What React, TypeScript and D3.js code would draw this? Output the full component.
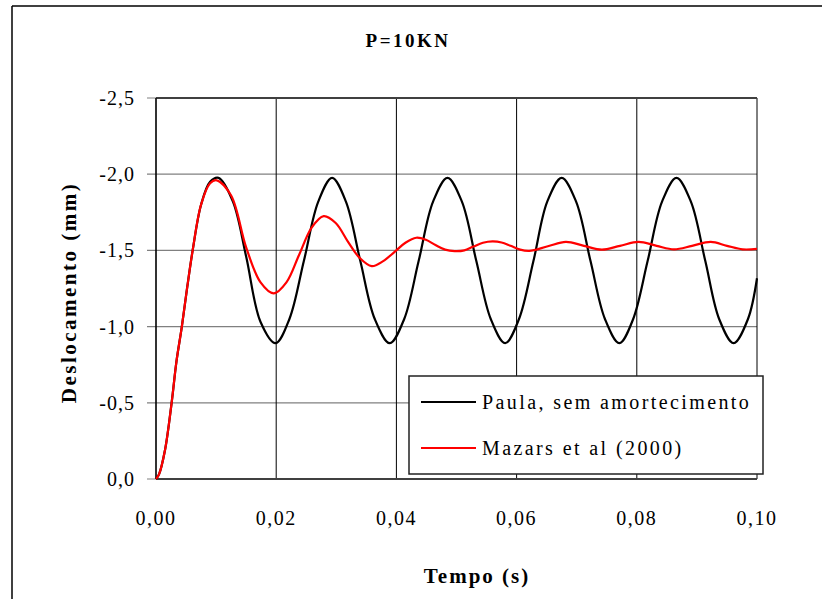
import React from 'react';
import * as d3 from 'd3';

// axis ticks
const xTicks = [0, 0.02, 0.04, 0.06, 0.08, 0.1];
const yTicks = [0, -0.5, -1, -1.5, -2, -2.5];

// Paula, sem amortecimento (no damping)
const paulaT = [
  0, 0.0005, 0.0015, 0.0026, 0.0034, 0.0043, 0.0052, 0.0061, 0.0075, 0.009, 0.0104,
  0.0128, 0.015, 0.0174, 0.0199, 0.0222, 0.0246, 0.027, 0.0293,
  0.0316, 0.034, 0.0364, 0.0389, 0.0413, 0.0437, 0.0461, 0.0485,
  0.0509, 0.0533, 0.0557, 0.0581, 0.0604, 0.0628, 0.0651, 0.0675,
  0.0699, 0.0723, 0.0747, 0.0771, 0.0794, 0.0818, 0.0842, 0.0866,
  0.089, 0.0914, 0.0937, 0.0961, 0.0985, 0.1,
];
const paulaD = [
  0, -0.03, -0.19, -0.5, -0.77, -1.0, -1.26, -1.5, -1.8, -1.95, -1.976,
  -1.82, -1.46, -1.03, -0.891, -1.05, -1.43, -1.82, -1.976,
  -1.82, -1.43, -1.05, -0.891, -1.05, -1.43, -1.82, -1.976,
  -1.82, -1.43, -1.05, -0.891, -1.05, -1.43, -1.82, -1.976,
  -1.82, -1.43, -1.05, -0.891, -1.05, -1.43, -1.82, -1.976,
  -1.82, -1.43, -1.05, -0.891, -1.05, -1.317,
];

// Mazars et al (2000)
const mazarsT = [
  0, 0.0005, 0.0015, 0.0026, 0.0034, 0.0043, 0.0052, 0.0061, 0.0075, 0.009, 0.0101,
  0.0125, 0.015, 0.0174, 0.0196, 0.0217, 0.0238, 0.0259, 0.0279,
  0.0299, 0.0319, 0.0339, 0.0359, 0.0378, 0.0397, 0.0415, 0.0433,
  0.0449, 0.0465, 0.0481, 0.0497, 0.0513, 0.0528, 0.0544, 0.056,
  0.0575, 0.059, 0.0606, 0.0621, 0.0652, 0.0682, 0.0712, 0.0742,
  0.0772, 0.0803, 0.0833, 0.0862, 0.0892, 0.0923, 0.095, 0.0976, 0.1,
];
const mazarsD = [
  0, -0.03, -0.19, -0.5, -0.77, -1.0, -1.26, -1.5, -1.8, -1.94, -1.96,
  -1.86, -1.52, -1.29, -1.218, -1.29, -1.47, -1.65, -1.725,
  -1.68, -1.56, -1.45, -1.397, -1.43, -1.49, -1.55, -1.583,
  -1.57, -1.535, -1.505, -1.495, -1.5, -1.525, -1.55, -1.559,
  -1.552, -1.53, -1.505, -1.497, -1.527, -1.556, -1.53, -1.505,
  -1.53, -1.556, -1.53, -1.507, -1.53, -1.556, -1.53, -1.507, -1.51,
];

const series = [
  { name: 'Paula, sem amortecimento', color: '#000000', t: paulaT, d: paulaD },
  { name: 'Mazars et al (2000)', color: '#ff0000', t: mazarsT, d: mazarsD },
];

const serif = '"Liberation Serif", "Times New Roman", serif';

const ptLocale = d3.formatLocale({
  decimal: ',',
  thousands: '.',
  grouping: [3],
  currency: ['', ''],
  minus: '-',
});
const fmtX = ptLocale.format('.2f');
const fmtY = ptLocale.format('.1f');

export default function App() {
  const width = 822;
  const height = 599;
  const plot = { left: 156, right: 757, top: 98, bottom: 479 };

  const x = d3.scaleLinear().domain([0, 0.1]).range([plot.left, plot.right]);
  const y = d3.scaleLinear().domain([0, -2.5]).range([plot.bottom, plot.top]);

  const line = d3
    .line<[number, number]>()
    .x((p) => x(p[0]))
    .y((p) => y(p[1]))
    .curve(d3.curveCatmullRom.alpha(0.5));

  const legend = { x: 409, y: 376, w: 354, h: 98 };

  return (
    <svg
      width={width}
      height={height}
      style={{ position: 'absolute', left: 0, top: 0, background: '#fff' }}
      fontFamily={serif}
    >
      {/* outer frame, runs off the right and bottom edges */}
      <line x1={12} x2={width} y1={6} y2={6} stroke="#404040" strokeWidth={2} />
      <line x1={12} x2={12} y1={6} y2={height} stroke="#000" strokeWidth={1.5} />

      <text x={408} y={47} textAnchor="middle" fontSize={19} fontWeight="bold" letterSpacing={2.5}>
        P=10KN
      </text>

      {/* horizontal grid (gray) */}
      {yTicks.map((v) => (
        <line key={'hg' + v} x1={plot.left - 9} x2={plot.right} y1={y(v)} y2={y(v)} stroke="#808080" strokeWidth={1.2} />
      ))}
      {/* vertical grid (black) */}
      {xTicks.map((v) => (
        <line key={'vg' + v} x1={x(v)} x2={x(v)} y1={plot.top} y2={plot.bottom} stroke="#000" strokeWidth={1} />
      ))}
      {/* plot borders */}
      <line x1={plot.left} x2={plot.right} y1={plot.top} y2={plot.top} stroke="#404040" strokeWidth={2} />
      <line x1={plot.left} x2={plot.right} y1={plot.bottom} y2={plot.bottom} stroke="#404040" strokeWidth={2} />
      <line x1={plot.left} x2={plot.left} y1={plot.top} y2={plot.bottom} stroke="#000" strokeWidth={1.2} />

      {/* y tick labels */}
      {yTicks.map((v) => (
        <text key={'yl' + v} x={135} y={y(v) + 7} textAnchor="end" fontSize={20} letterSpacing={1}>
          {fmtY(v)}
        </text>
      ))}
      {/* x tick labels */}
      {xTicks.map((v) => (
        <text key={'xl' + v} x={x(v)} y={525} textAnchor="middle" fontSize={20} letterSpacing={1.5}>
          {fmtX(v)}
        </text>
      ))}

      {/* series */}
      {series.map((s) => (
        <path
          key={s.name}
          d={line(s.t.map((t, i) => [t, s.d[i]] as [number, number])) || ''}
          fill="none"
          stroke={s.color}
          strokeWidth={2.2}
        />
      ))}

      {/* axis titles */}
      <text
        transform={`translate(76,${(plot.top + plot.bottom) / 2 + 4}) rotate(-90)`}
        textAnchor="middle"
        fontSize={21}
        fontWeight="bold"
        letterSpacing={2.5}
      >
        Deslocamento (mm)
      </text>
      <text x={477} y={583} textAnchor="middle" fontSize={21} fontWeight="bold" letterSpacing={2}>
        Tempo (s)
      </text>

      {/* legend */}
      <rect x={legend.x} y={legend.y} width={legend.w} height={legend.h} fill="#fff" stroke="#222" strokeWidth={1.5} />
      {series.map((s, i) => (
        <g key={'lg' + s.name}>
          <line x1={421} x2={476} y1={402 + i * 46} y2={402 + i * 46} stroke={s.color} strokeWidth={2} />
          <text x={482} y={409 + i * 46} fontSize={20} letterSpacing={2.4}>
            {s.name}
          </text>
        </g>
      ))}
    </svg>
  );
}
